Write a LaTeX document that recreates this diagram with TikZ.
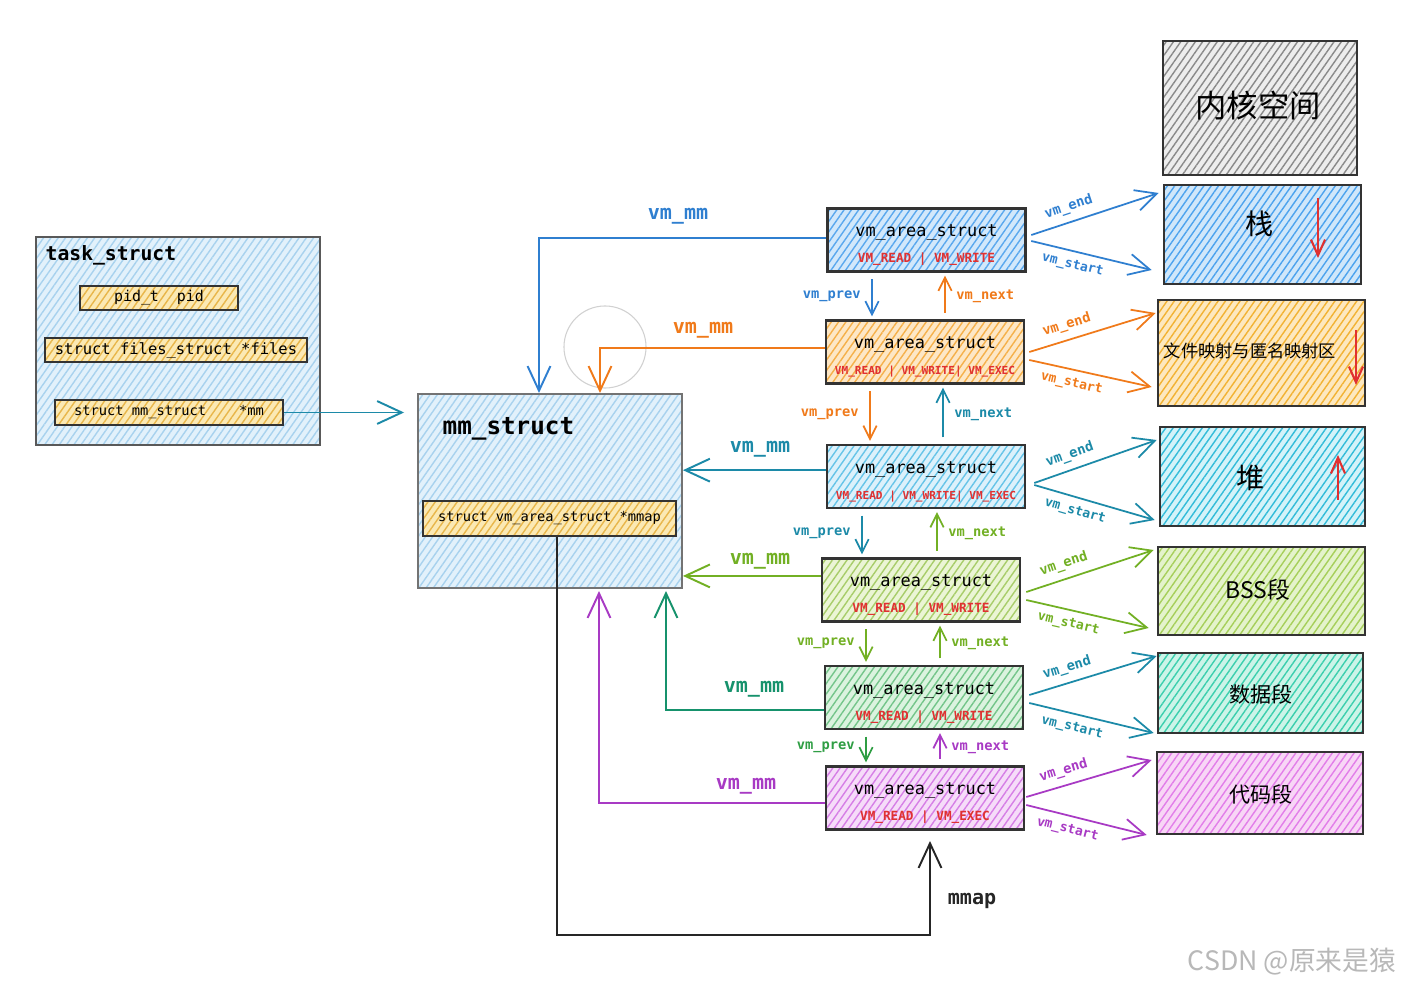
\documentclass[tikz,border=0pt]{standalone}
\usepackage{fontspec}
\setmainfont{DejaVu Sans}
\newfontfamily\mono{DejaVu Sans Mono}
\newfontfamily\cjk{Noto Sans CJK SC}
\usetikzlibrary{arrows.meta,patterns.meta}
\definecolor{blueC}{HTML}{2F7FD0}
\definecolor{orangeC}{HTML}{F07A1A}
\definecolor{tealC}{HTML}{1C8AA8}
\definecolor{ygC}{HTML}{72B024}
\definecolor{greenC}{HTML}{16926C}
\definecolor{dgreenC}{HTML}{2F9E44}
\definecolor{purpleC}{HTML}{A83AC4}
\definecolor{flagred}{HTML}{E03131}
\definecolor{taskB}{HTML}{E2F1FB}\definecolor{taskH}{HTML}{A8D2EE}
\definecolor{yelB}{HTML}{FBE9B4}\definecolor{yelH}{HTML}{E8B64A}
\definecolor{v1B}{HTML}{D2E8FB}\definecolor{v1H}{HTML}{5AA8EE}
\definecolor{v2B}{HTML}{FDE7C6}\definecolor{v2H}{HTML}{F5B04A}
\definecolor{v3B}{HTML}{DCF1FB}\definecolor{v3H}{HTML}{66C4E8}
\definecolor{v4B}{HTML}{EBF5D5}\definecolor{v4H}{HTML}{A8CD6A}
\definecolor{v5B}{HTML}{DBF3DF}\definecolor{v5H}{HTML}{74C58A}
\definecolor{v6B}{HTML}{F6DCF9}\definecolor{v6H}{HTML}{D67FE6}
\definecolor{kB}{HTML}{EDEDED}\definecolor{kH}{HTML}{8A8A8A}
\definecolor{sB}{HTML}{D0E7FA}\definecolor{sH}{HTML}{4DA3EE}
\definecolor{fB}{HTML}{FDE8BF}\definecolor{fH}{HTML}{F2B233}
\definecolor{hB}{HTML}{D4F3F9}\definecolor{hH}{HTML}{33BCD9}
\definecolor{bB}{HTML}{E4F3CB}\definecolor{bH}{HTML}{A6CF5A}
\definecolor{dB}{HTML}{CCF4E8}\definecolor{dH}{HTML}{3CCFAE}
\definecolor{cB}{HTML}{F8D6F6}\definecolor{cH}{HTML}{E27EE9}
\newcommand\flgS{\bfseries\fontsize{3.6pt}{7.4pt}\selectfont\color{flagred}}
\newcommand\flgL{\bfseries\fontsize{3.15pt}{7.4pt}\selectfont\color{flagred}}
\newcommand\tstrut{\rule{0pt}{6.4pt}}
\tikzset{
  hb/.style 2 args={preaction={fill=#1},
    pattern={Lines[angle=55,distance=1.7pt,line width=0.4pt]}, pattern color=#2,
    draw=black!80, line width=0.7pt, inner sep=0pt},
  vbox/.style 2 args={hb={#1}{#2}, minimum width=1.98cm, minimum height=0.63cm,
    align=center, font=\mono\fontsize{4.8pt}{7.4pt}\selectfont},
  rbox/.style 2 args={hb={#1}{#2}},
  rtxt/.style={inner sep=0pt},
  ln/.style={line width=0.55pt},
  bigarr/.style={-{Straight Barb[length=7pt,width=6.5pt,line width=0.55pt]}},
  lk/.style={line width=0.5pt,-{Straight Barb[length=3.8pt,width=3.8pt,line width=0.5pt]},
    shorten <=1.8pt, shorten >=0.8pt},
  lkl/.style={font=\mono\bfseries\fontsize{3.9pt}{5pt}\selectfont, inner sep=3pt},
  ra/.style={line width=0.5pt,-{Straight Barb[length=6pt,width=6pt,line width=0.5pt]}},
  el/.style={sloped, above, pos=0.33, inner sep=2pt, font=\mono\bfseries\fontsize{3.9pt}{5pt}\selectfont},
  sl/.style={sloped, below, pos=0.37, inner sep=2pt, font=\mono\bfseries\fontsize{3.7pt}{5pt}\selectfont},
  rarr/.style={line width=0.6pt,-{Straight Barb[length=4.5pt,width=4pt,line width=0.6pt]}},
  mml/.style={font=\mono\bfseries\fontsize{5.7pt}{7pt}\selectfont, inner sep=0pt},
}
\begin{document}
\begin{tikzpicture}[x=0.01cm,y=-0.01cm]
\useasboundingbox (0,0) rectangle (1402,988);
\fill[white] (0,0) rectangle (1402,988);

% task_struct
\node[hb={taskB}{taskH}, draw=black!65, line width=0.5pt, minimum width=2.84cm, minimum height=2.08cm] (task) at (178,341) {};
\node[anchor=west, inner sep=0pt, font=\mono\bfseries\fontsize{5.6pt}{7pt}\selectfont] (taskt) at (45,255) {task\_struct};
\node[hb={yelB}{yelH}, minimum width=1.58cm, minimum height=0.24cm, font=\mono\fontsize{4.25pt}{5pt}\selectfont] (pid) at (159,298) {pid\_t\ \ pid};
\node[hb={yelB}{yelH}, minimum width=2.62cm, minimum height=0.24cm, font=\mono\fontsize{4.4pt}{5pt}\selectfont] (files) at (176,350) {struct files\_struct *files};
\node[hb={yelB}{yelH}, minimum width=2.28cm, minimum height=0.25cm, font=\mono\fontsize{3.9pt}{5pt}\selectfont] (mmptr) at (169,412.5) {struct mm\_struct\ \ \ \ *mm};

% mm_struct
\node[hb={taskB}{taskH}, draw=black!55, line width=0.5pt, minimum width=2.64cm, minimum height=1.94cm] (mm) at (550,491) {};
\node[anchor=west, inner sep=0pt, font=\mono\bfseries\fontsize{6.9pt}{8pt}\selectfont] (mmt) at (442,429) {mm\_struct};
\node[hb={yelB}{yelH}, minimum width=2.53cm, minimum height=0.35cm, font=\mono\fontsize{3.9pt}{5pt}\selectfont] (mmapf) at (549.5,518.5) {struct vm\_area\_struct *mmap};

\node[draw=black!18, line width=0.3pt, circle, minimum size=0.82cm, inner sep=0pt] (circ) at (605,347) {};

% vm_area_struct boxes
\node[vbox={v1B}{v1H}] (v1) at (926.5,240) {\tstrut vm\_area\_struct\\{\flgS VM\_READ | VM\_WRITE}};
\node[vbox={v2B}{v2H}] (v2) at (925,352) {\tstrut vm\_area\_struct\\{\flgL VM\_READ | VM\_WRITE| VM\_EXEC}};
\node[vbox={v3B}{v3H}] (v3) at (926,476.5) {\tstrut vm\_area\_struct\\{\flgL VM\_READ | VM\_WRITE| VM\_EXEC}};
\node[vbox={v4B}{v4H}] (v4) at (921,590) {\tstrut vm\_area\_struct\\{\flgS VM\_READ | VM\_WRITE}};
\node[vbox={v5B}{v5H}] (v5) at (924,697.5) {\tstrut vm\_area\_struct\\{\flgS VM\_READ | VM\_WRITE}};
\node[vbox={v6B}{v6H}] (v6) at (925,798) {\tstrut vm\_area\_struct\\{\flgS VM\_READ | VM\_EXEC}};

% right column
\node[rbox={kB}{kH}, minimum width=1.94cm, minimum height=1.34cm] (kern) at (1260,108) {};
\node[rbox={sB}{sH}, minimum width=1.97cm, minimum height=0.99cm] (stack) at (1262.5,234.5) {};
\node[rbox={fB}{fH}, minimum width=2.07cm, minimum height=1.06cm] (fmap) at (1261.5,353) {};
\node[rbox={hB}{hH}, minimum width=2.05cm, minimum height=0.99cm] (heap) at (1262.5,476.5) {};
\node[rbox={bB}{bH}, minimum width=2.07cm, minimum height=0.88cm] (bss) at (1261.5,591) {};
\node[rbox={dB}{dH}, minimum width=2.05cm, minimum height=0.80cm] (data) at (1260.5,693) {};
\node[rbox={cB}{cH}, minimum width=2.06cm, minimum height=0.82cm] (code) at (1260,793) {};
\node[rtxt, font=\cjk\fontsize{8.9pt}{10pt}\selectfont] (kernt) at (1258,106) {内核空间};
\node[rtxt, font=\cjk\fontsize{8pt}{10pt}\selectfont] (stackt) at (1260,224) {栈};
\node[rtxt, font=\cjk\fontsize{4.9pt}{6pt}\selectfont] (fmapt) at (1250,351) {文件映射与匿名映射区};
\node[rtxt, font=\cjk\fontsize{8pt}{10pt}\selectfont] (heapt) at (1251,478) {堆};
\node[rtxt, font=\cjk\fontsize{6.5pt}{8pt}\selectfont] (bsst) at (1258,590) {BSS段};
\node[rtxt, font=\cjk\fontsize{6pt}{8pt}\selectfont] (datat) at (1261,694) {数据段};
\node[rtxt, font=\cjk\fontsize{6pt}{8pt}\selectfont] (codet) at (1261,794) {代码段};

% red growth arrows
\draw[flagred, rarr] ([shift={(55.5,-36.5)}]stack.center) -- ([shift={(55.5,23.5)}]stack.center);
\draw[flagred, rarr] ([shift={(94.5,-23)}]fmap.center) -- ([shift={(94.5,32)}]fmap.center);
\draw[flagred, rarr] ([shift={(75.5,23.5)}]heap.center) -- ([shift={(75.5,-21.5)}]heap.center);

% task -> mm
\draw[tealC, ln, bigarr, shorten >=3.7pt] (mmptr.east) -- (mmptr.east -| mm.west);

% vm_mm back pointers
\coordinate (mmA) at (539,393);
\coordinate (mmB) at (600,393);
\coordinate (mmC) at (666,591);
\coordinate (mmD) at (599,591);
\draw[blueC, ln, bigarr] ([yshift=0.6pt]v1.west) -| (mmA);
\draw[orangeC, ln, bigarr] ([yshift=1.1pt]v2.west) -| (mmB);
\draw[tealC, ln, bigarr] ([yshift=1.8pt]v3.west) -- ([yshift=1.8pt]v3.west -| mm.east);
\draw[ygC, ln, bigarr] ([yshift=4pt]v4.west) -- ([yshift=4pt]v4.west -| mm.east);
\draw[greenC, ln, bigarr] ([yshift=-3.5pt]v5.west) -| (mmC);
\draw[purpleC, ln, bigarr] ([yshift=-1.4pt]v6.west) -| (mmD);
\node[mml, text=blueC] (l1) at (678,216) {vm\_mm};
\node[mml, text=orangeC] (l2) at (703,330) {vm\_mm};
\node[mml, text=tealC] (l3) at (760,449) {vm\_mm};
\node[mml, text=ygC] (l4) at (760,561) {vm\_mm};
\node[mml, text=greenC] (l5) at (754,689) {vm\_mm};
\node[mml, text=purpleC] (l6) at (746,786) {vm\_mm};

% mmap
\coordinate (mmcorner) at (930,935);
\coordinate (mmtip) at (930,841);
\draw[black!85, ln, bigarr] (mmapf.south -| 557,0) |- (mmcorner) -- (mmtip);
\node[mml, text=black!85] (mmapl) at (972,901) {mmap};

% vm_prev / vm_next
\draw[blueC, lk] (v1.south -| 872,0) -- node[left, lkl]{vm\_prev} (v2.north -| 872,0);
\draw[orangeC, lk] (v2.north -| 945,0) -- node[right, lkl]{vm\_next} (v1.south -| 945,0);
\draw[orangeC, lk] (v2.south -| 870,0) -- node[left, lkl]{vm\_prev} (v3.north -| 870,0);
\draw[tealC, lk] (v3.north -| 943,0) -- node[right, lkl]{vm\_next} (v2.south -| 943,0);
\draw[tealC, lk] (v3.south -| 862,0) -- node[left, lkl]{vm\_prev} (v4.north -| 862,0);
\draw[ygC, lk] (v4.north -| 937,0) -- node[right, lkl]{vm\_next} (v3.south -| 937,0);
\draw[ygC, lk] (v4.south -| 866,0) -- node[left, lkl]{vm\_prev} (v5.north -| 866,0);
\draw[ygC, lk] (v5.north -| 940,0) -- node[right, lkl]{vm\_next} (v4.south -| 940,0);
\draw[dgreenC, lk] (v5.south -| 866,0) -- node[left, lkl]{vm\_prev} (v6.north -| 866,0);
\draw[purpleC, lk] (v6.north -| 940,0) -- node[right, lkl]{vm\_next} (v5.south -| 940,0);

% vm_end / vm_start
\draw[blueC, ra] ([shift={(4.5,-5)}]v1.east) -- node[el]{vm\_end} ([shift={(-4,-41.5)}]stack.west);
\draw[blueC, ra] ([shift={(4.5,1)}]v1.east) -- node[sl]{vm\_start} ([shift={(-11,35.5)}]stack.west);
\draw[orangeC, ra] ([shift={(4,0)}]v2.east) -- node[el]{vm\_end} ([shift={(-1,-40)}]fmap.west);
\draw[orangeC, ra] ([shift={(4,8)}]v2.east) -- node[sl]{vm\_start} ([shift={(-5,34)}]fmap.west);
\draw[tealC, ra] ([shift={(8,6.5)}]v3.east) -- node[el]{vm\_end} ([shift={(-2,-36.5)}]heap.west);
\draw[tealC, ra] ([shift={(8,8.5)}]v3.east) -- node[sl]{vm\_start} ([shift={(-4,43.5)}]heap.west);
\draw[ygC, ra] ([shift={(5,2)}]v4.east) -- node[el]{vm\_end} ([shift={(-3,-41)}]bss.west);
\draw[ygC, ra] ([shift={(5,10)}]v4.east) -- node[sl]{vm\_start} ([shift={(-8,37)}]bss.west);
\draw[tealC, ra] ([shift={(5,-2.5)}]v5.east) -- node[el]{vm\_end} ([shift={(0,-37)}]data.west);
\draw[tealC, ra] ([shift={(5,5.5)}]v5.east) -- node[sl]{vm\_start} ([shift={(-3,40)}]data.west);
\draw[purpleC, ra] ([shift={(1,-1)}]v6.east) -- node[el]{vm\_end} ([shift={(-4,-33)}]code.west);
\draw[purpleC, ra] ([shift={(1,7)}]v6.east) -- node[sl]{vm\_start} ([shift={(-9,42)}]code.west);

% watermark
\node[text=black!28, inner sep=0pt, font=\cjk\fontsize{7.6pt}{9pt}\selectfont] (wm) at (1292,962) {CSDN @原来是猿};
\end{tikzpicture}
\end{document}
